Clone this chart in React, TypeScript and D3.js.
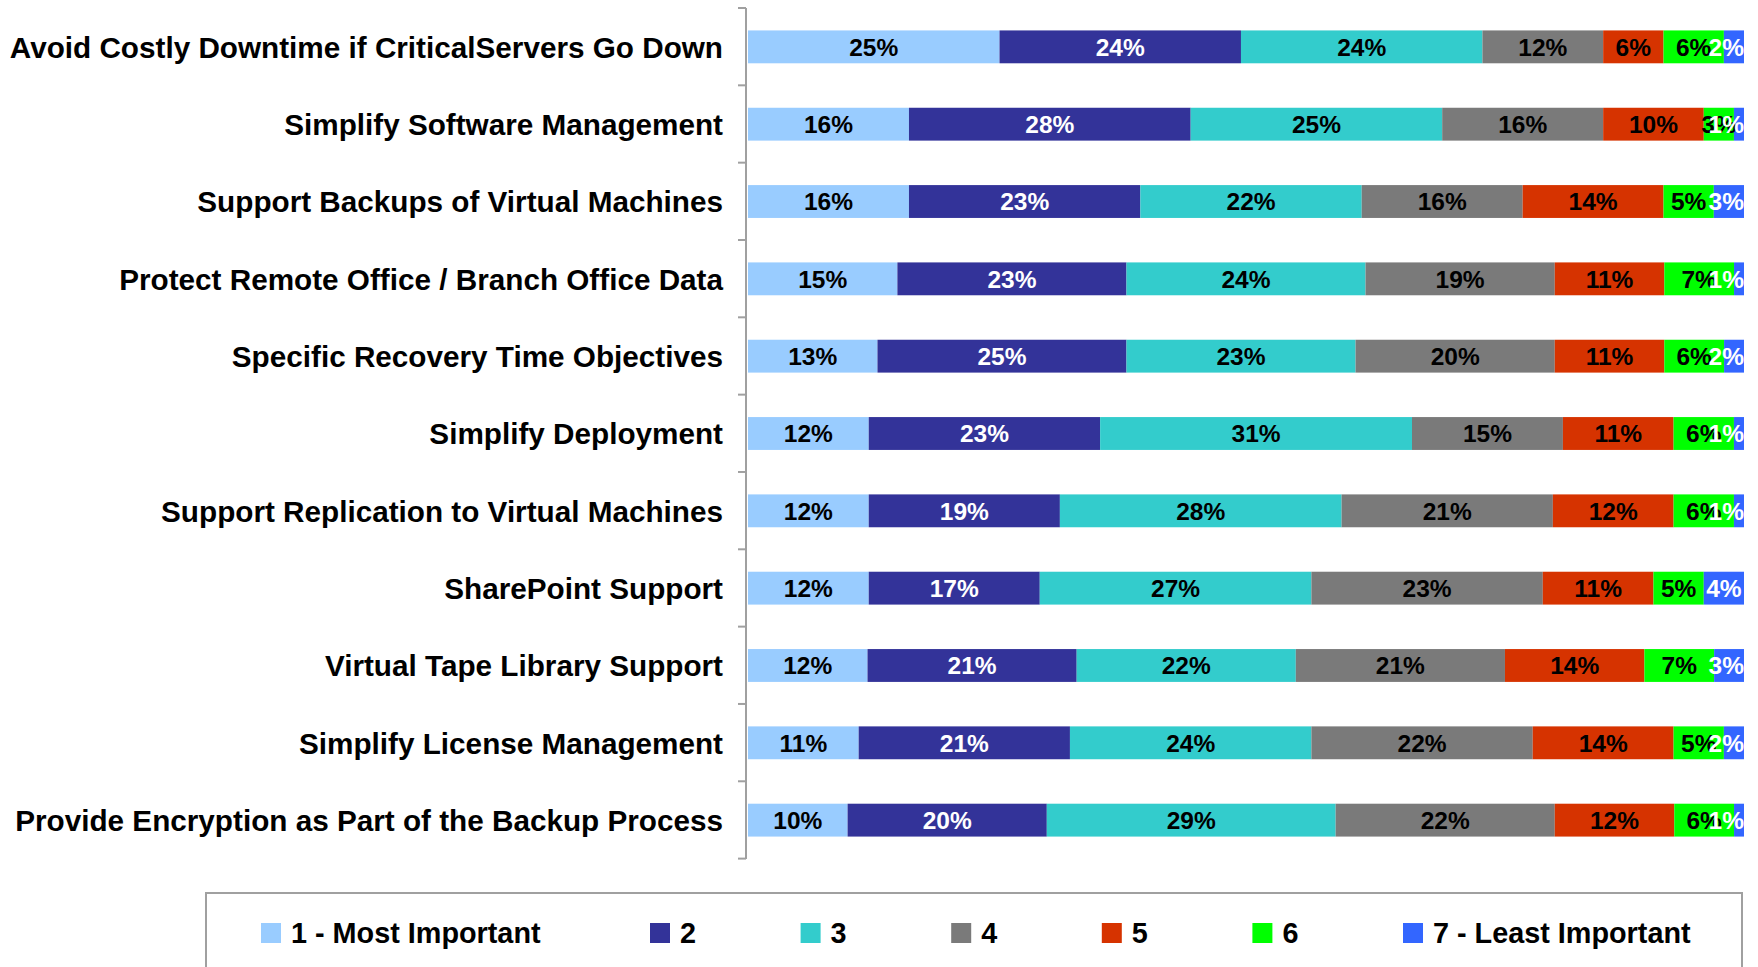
import * as d3 from 'd3';

const categories = [
  'Avoid Costly Downtime if CriticalServers Go Down',
  'Simplify Software Management',
  'Support Backups of Virtual Machines',
  'Protect Remote Office / Branch Office Data',
  'Specific Recovery Time Objectives',
  'Simplify Deployment',
  'Support Replication to Virtual Machines',
  'SharePoint Support',
  'Virtual Tape Library Support',
  'Simplify License Management',
  'Provide Encryption as Part of the Backup Process',
];

const seriesNames = ['1 - Most Important', '2', '3', '4', '5', '6', '7 - Least Important'];

// one array per rank, in the order of the categories
const rank1 = [25, 16, 16, 15, 13, 12, 12, 12, 12, 11, 10];
const rank2 = [24, 28, 23, 23, 25, 23, 19, 17, 21, 21, 20];
const rank3 = [24, 25, 22, 24, 23, 31, 28, 27, 22, 24, 29];
const rank4 = [12, 16, 16, 19, 20, 15, 21, 23, 21, 22, 22];
const rank5 = [6, 10, 14, 11, 11, 11, 12, 11, 14, 14, 12];
const rank6 = [6, 3, 5, 7, 6, 6, 6, 5, 7, 5, 6];
const rank7 = [2, 1, 3, 1, 2, 1, 1, 4, 3, 2, 1];

const seriesValues = [rank1, rank2, rank3, rank4, rank5, rank6, rank7];

const colors = ['#99ccff', '#333399', '#33cccc', '#7a7a7a', '#d63300', '#00ff00', '#3366ff'];
const labelColors = ['#000', '#fff', '#000', '#000', '#000', '#000', '#fff'];

const width = 1758;
const height = 967;
const font = '"Liberation Sans", Arial, Helvetica, sans-serif';

export default function App() {
  const rows = categories.map((c, i) => {
    const row: Record<string, any> = { category: c };
    seriesNames.forEach((s, k) => (row[s] = seriesValues[k][i]));
    return row;
  });

  const stacked = d3.stack<any>().keys(seriesNames).offset(d3.stackOffsetExpand)(rows);

  const plotLeft = 748;
  const plotRight = 1744;
  const x = d3.scaleLinear().domain([0, 1]).range([plotLeft, plotRight]);
  const y = d3.scaleBand().domain(categories).range([8, 859]).paddingInner(0.575).paddingOuter(0.29);
  const step = y.step();
  const color = d3.scaleOrdinal<string, string>().domain(seriesNames).range(colors);

  const labelSize = 24.5;
  const textW = (t: string) => (t.length - 1) * 0.556 * labelSize + 0.889 * labelSize;

  const legendX = (i: number) => (i === 0 ? 261 : 650 + (i - 1) * 150.6);

  const axisTop = y.range()[0];
  const axisBottom = y.range()[1];

  return (
    <svg
      width={width}
      height={height}
      style={{ position: 'absolute', left: 0, top: 0, background: '#fff' }}
      fontFamily={font}
    >
      {/* bars */}
      {stacked.map(layer => (
        <g key={layer.key} fill={color(layer.key)}>
          {layer.map((d, i) => (
            <rect
              key={i}
              x={x(d[0])}
              y={y(categories[i])}
              width={x(d[1]) - x(d[0])}
              height={y.bandwidth()}
            />
          ))}
        </g>
      ))}

      {/* value labels, kept inside the plot at the right edge */}
      {stacked.map((layer, k) => (
        <g key={'l' + layer.key} fill={labelColors[k]} fontSize={labelSize} fontWeight="bold" textAnchor="middle">
          {layer.map((d, i) => {
            const t = `${seriesValues[k][i]}%`;
            const cx = Math.min((x(d[0]) + x(d[1])) / 2, plotRight - textW(t) / 2);
            return (
              <text key={i} x={cx} y={y(categories[i])! + y.bandwidth() / 2} dy="0.36em">
                {t}
              </text>
            );
          })}
        </g>
      ))}

      {/* category axis */}
      <g stroke="#a0a0a0" strokeWidth={2}>
        <line x1={746} x2={746} y1={axisTop} y2={axisBottom} />
        {d3.range(categories.length + 1).map(i => (
          <line key={i} x1={738} x2={746} y1={axisTop + i * step} y2={axisTop + i * step} />
        ))}
      </g>
      <g fontSize={29.7} fontWeight="bold" textAnchor="end" fill="#000">
        {categories.map(c => (
          <text key={c} x={723} y={y(c)! + y.bandwidth() / 2} dy="0.36em">
            {c}
          </text>
        ))}
      </g>

      {/* legend */}
      <rect x={206} y={893} width={1536} height={100} fill="none" stroke="#a0a0a0" strokeWidth={2} />
      {seriesNames.map((s, i) => (
        <g key={s} transform={`translate(${legendX(i)},923)`}>
          <rect width={20} height={20} fill={color(s)} />
          <text x={30} y={10} dy="0.36em" fontSize={28.8} fontWeight="bold" fill="#000">
            {s}
          </text>
        </g>
      ))}
    </svg>
  );
}
